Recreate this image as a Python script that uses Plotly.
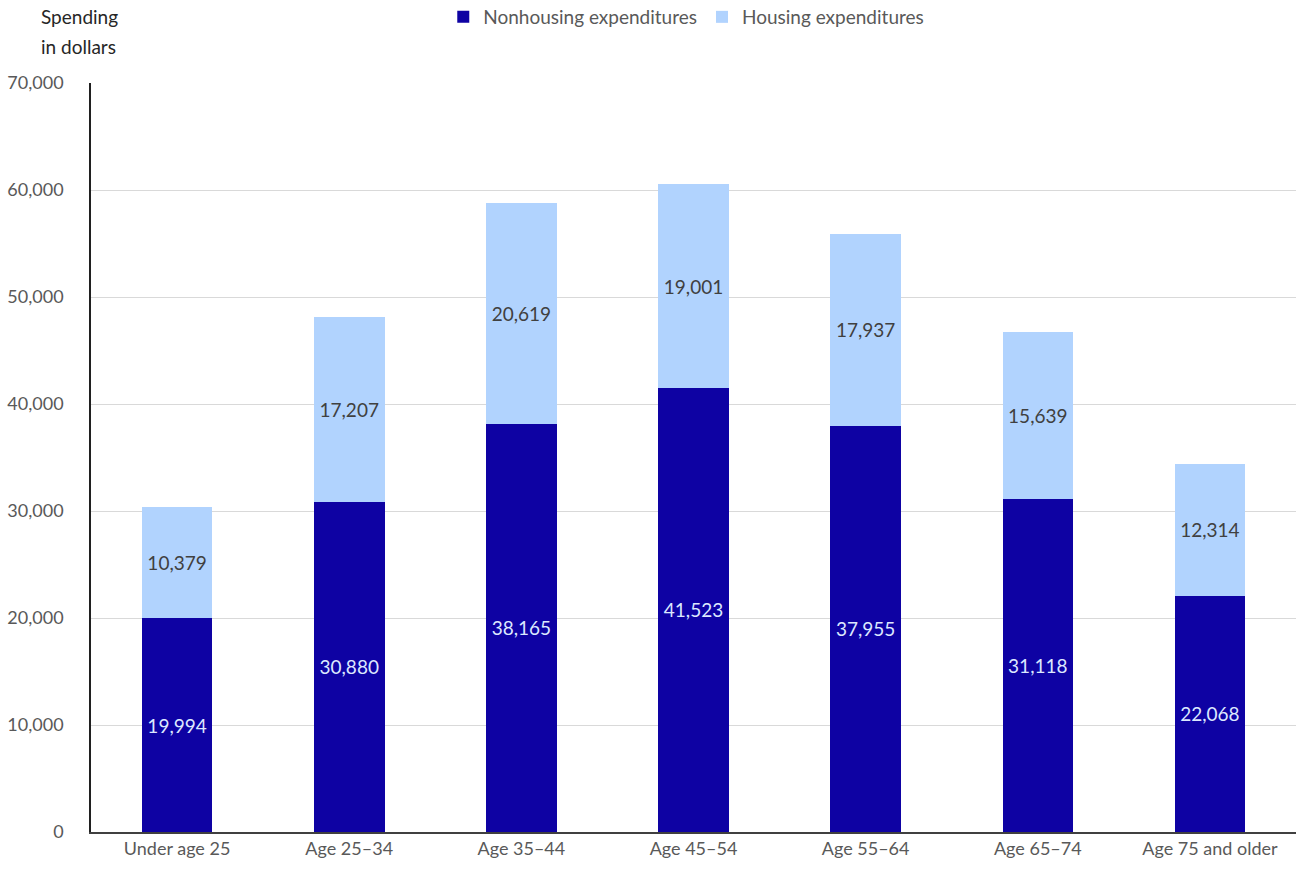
import plotly.graph_objects as go

categories = ["Under age 25", "Age 25–34", "Age 35–44", "Age 45–54", "Age 55–64", "Age 65–74", "Age 75 and older"]
nonhousing = [19994, 30880, 38165, 41523, 37955, 31118, 22068]
housing = [10379, 17207, 20619, 19001, 17937, 15639, 12314]
y_ticks = [0, 10000, 20000, 30000, 40000, 50000, 60000, 70000]

FONT = "Lato, Open Sans, sans-serif"

fig = go.Figure()
fig.add_trace(go.Bar(
    x=categories, y=nonhousing, name="Nonhousing expenditures",
    marker=dict(color="#0E02A3", line=dict(width=0)),
    text=[f"{v:,}" for v in nonhousing], textposition="inside",
    insidetextanchor="middle", textangle=0,
    textfont=dict(color="#DCE8FF", size=19, family=FONT),
))
fig.add_trace(go.Bar(
    x=categories, y=housing, name="Housing expenditures",
    marker=dict(color="#B1D3FE", line=dict(width=0)),
    text=[f"{v:,}" for v in housing], textposition="inside",
    insidetextanchor="middle", textangle=0,
    textfont=dict(color="#404040", size=19, family=FONT),
))

fig.update_layout(
    barmode="stack", bargap=0.59,
    width=1296, height=878,
    margin=dict(l=91, r=0, t=83, b=46, autoexpand=False),
    paper_bgcolor="white", plot_bgcolor="white",
    font=dict(family=FONT, color="#595959", size=18),
    showlegend=True,
    legend=dict(orientation="h", x=0.494, xanchor="center", y=(832 - 17) / 749, yanchor="middle",
                font=dict(size=19, color="#595959"),
                traceorder="normal"),
    uniformtext=dict(mode=False),
)
fig.update_xaxes(showline=True, linecolor="#404040", linewidth=1.5, ticks="",
                 tickfont=dict(size=18, color="#595959"), showgrid=False)
fig.update_yaxes(range=[0, 70000], tickvals=y_ticks, tickformat=",",
                 showline=True, linecolor="#202020", linewidth=1.5,
                 showgrid=True, gridcolor="#D9D9D9", gridwidth=1,
                 zeroline=False, ticks="", ticklabelstandoff=22,
                 tickfont=dict(size=18, color="#595959"))
fig.add_annotation(text="Spending", xref="paper", yref="paper",
                   x=-0.043, y=(832 - 16) / 749, xanchor="left", yanchor="middle", align="left",
                   showarrow=False, font=dict(size=19, color="#262626", family=FONT))
fig.add_annotation(text="in dollars", xref="paper", yref="paper",
                   x=-0.043, y=(832 - 46) / 749, xanchor="left", yanchor="middle", align="left",
                   showarrow=False, font=dict(size=19, color="#262626", family=FONT))
fig.write_html("out.html", config={"displayModeBar": False},
               post_script="document.body.style.margin='0';")
